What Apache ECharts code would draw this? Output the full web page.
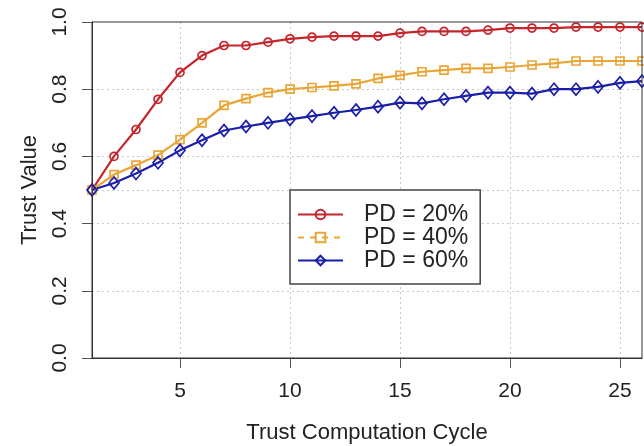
<!DOCTYPE html>
<html><head><meta charset="utf-8">
<script src="https://cdn.jsdelivr.net/npm/echarts@6/dist/echarts.min.js"></script>
<style>html,body{margin:0;padding:0;background:#fff}#c{width:644px;height:446px}</style>
</head><body><div id="c"></div>
<script>
const cycles = [1,2,3,4,5,6,7,8,9,10,11,12,13,14,15,16,17,18,19,20,21,22,23,24,25,26];
const pd20 = [0.50,0.60,0.68,0.77,0.85,0.90,0.93,0.93,0.94,0.95,0.955,0.958,0.958,0.958,0.967,0.972,0.972,0.972,0.976,0.982,0.982,0.982,0.985,0.985,0.985,0.985];
const pd40 = [0.50,0.546,0.574,0.604,0.65,0.70,0.752,0.772,0.79,0.80,0.805,0.81,0.816,0.832,0.841,0.852,0.857,0.862,0.862,0.866,0.872,0.877,0.884,0.884,0.884,0.884];
const pd60 = [0.50,0.521,0.549,0.581,0.618,0.648,0.677,0.689,0.70,0.71,0.72,0.73,0.738,0.748,0.76,0.758,0.77,0.78,0.79,0.79,0.787,0.80,0.80,0.807,0.819,0.824];
const seriesNames = ['PD = 20%','PD = 40%','PD = 60%'];
const initialTrust = 0.5;

const FONT = 'Liberation Sans, Arial, sans-serif';
const TXT = '#222';
const colors = ['#C4262C','#E9A637','#1B1FA8'];
const gridStyle = {color:'#c8c8c8', type:[2,3], width:1};
const everyFifth = (i, v) => Number(v) % 5 === 0;

const chart = echarts.init(document.getElementById('c'), null, {renderer:'canvas'});

function mk(name, data, color, symbol, size){
  return {
    name, type:'line', data, symbol, symbolSize:size, showSymbol:true,
    lineStyle:{color, width:2.2},
    itemStyle:{color:'rgba(255,255,255,0)', borderColor:color, borderWidth:1.7},
    emphasis:{disabled:true}, z:3
  };
}

const series = [
  mk(seriesNames[0], pd20, colors[0], 'circle', 8),
  mk(seriesNames[1], pd40, colors[1], 'rect', 8),
  mk(seriesNames[2], pd60, colors[2], 'diamond', [10,12])
];
series[0].markLine = {
  silent:true, symbol:'none', label:{show:false},
  lineStyle:gridStyle, data:[{yAxis:initialTrust}], z:1
};

chart.setOption({
  animation:false,
  backgroundColor:'#fff',
  textStyle:{fontFamily:FONT},
  grid:{left:92, top:22, right:2, bottom:88, containLabel:false, outerBoundsMode:'none',
        show:true, borderColor:'#333', borderWidth:1, backgroundColor:'transparent', z:5},
  xAxis:{
    type:'category', data:cycles, boundaryGap:false,
    name:'Trust Computation Cycle', nameLocation:'middle', nameGap:64,
    nameTextStyle:{fontSize:22, color:TXT, fontFamily:FONT},
    axisLine:{show:true, lineStyle:{color:'#333'}},
    axisTick:{show:true, interval:everyFifth, length:10, lineStyle:{color:'#555'}},
    axisLabel:{interval:everyFifth, fontSize:21, color:TXT, margin:23, fontFamily:FONT},
    splitLine:{show:true, interval:everyFifth, lineStyle:gridStyle}
  },
  yAxis:{
    type:'value', min:0, max:1, interval:0.2,
    name:'Trust Value', nameLocation:'middle', nameGap:51, nameRotate:90,
    nameTextStyle:{fontSize:22, color:TXT, fontFamily:FONT},
    axisLine:{show:true, lineStyle:{color:'#333'}},
    axisTick:{show:true, length:10, lineStyle:{color:'#555'}},
    axisLabel:{rotate:90, fontSize:21, color:TXT, margin:21, fontFamily:FONT, formatter:v=>v.toFixed(1)},
    splitLine:{show:true, showMinLine:false, showMaxLine:false, lineStyle:gridStyle}
  },
  legend:{
    data:[
      {name:seriesNames[0]},
      {name:seriesNames[1], lineStyle:{type:[6,6]}},
      {name:seriesNames[2]}
    ],
    orient:'vertical', left:290, top:190,
    itemWidth:45, itemHeight:12, itemGap:0,
    padding:[13,12,12,7],
    borderColor:'#444', borderWidth:1.5, backgroundColor:'#fff',
    textStyle:{fontSize:23, color:TXT, fontFamily:FONT, lineHeight:23, padding:[0,0,0,16]},
    selectedMode:false
  },
  series
});
</script></body></html>
